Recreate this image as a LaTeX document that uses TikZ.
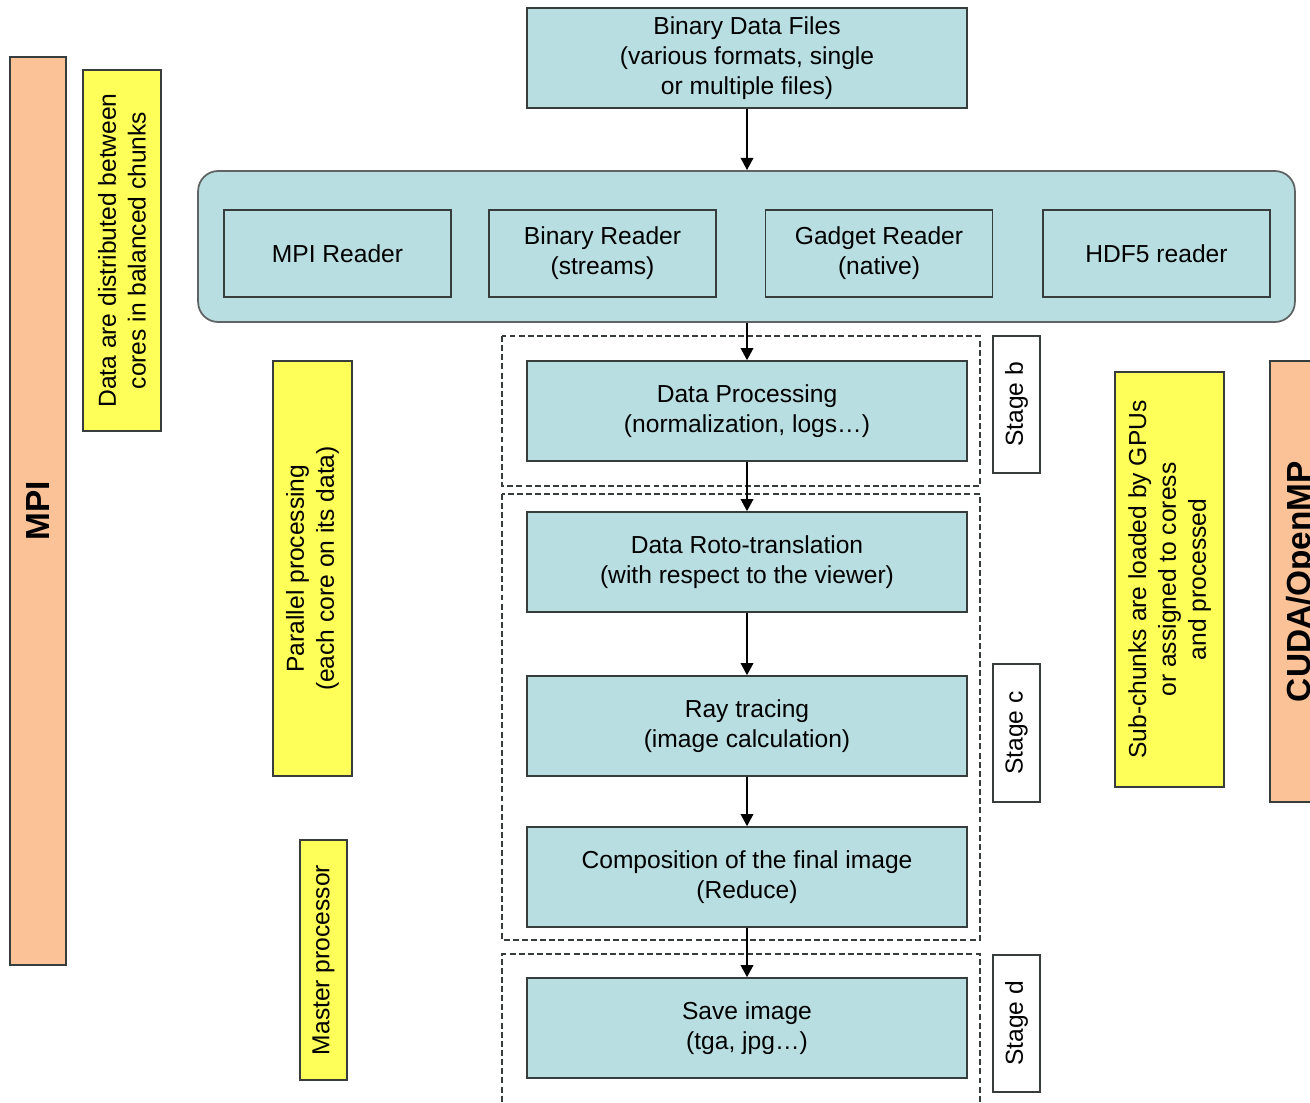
\documentclass[tikz,border=0pt]{standalone}
\usepackage{fontspec}
\setmainfont{Liberation Sans}
\usepackage{xcolor}
\usetikzlibrary{shapes.geometric, arrows, arrows.meta, positioning, fit, backgrounds, calc}
\definecolor{stageteal}{RGB}{184,222,225}
\definecolor{noteyellow}{RGB}{255,255,90}
\definecolor{apiorange}{RGB}{250,194,150}
\definecolor{edgegray}{RGB}{55,60,60}

\begin{document}
\begin{tikzpicture}[
    x=0.02cm, y=-0.02cm,
    font=\fontsize{14}{17}\selectfont,
    box/.style={draw=edgegray, line width=0.8pt, fill=stageteal, minimum width=8.8cm, minimum height=2cm, align=center},
    reader/.style={draw=edgegray, line width=0.8pt, fill=stageteal, minimum width=4.54cm, minimum height=1.74cm, align=center},
    note/.style={draw=edgegray, line width=0.8pt, fill=noteyellow, rotate=90, align=center, inner sep=0pt},
    api/.style={draw=edgegray, line width=0.8pt, fill=apiorange, rotate=90, align=center, inner sep=0pt, font=\fontsize{19}{22}\selectfont\bfseries},
    stagelabel/.style={draw=edgegray, line width=0.8pt, fill=white, rotate=90, minimum height=0.94cm, inner sep=0pt},
    stagebox/.style={draw=edgegray, line width=0.6pt, dash pattern=on 3.4pt off 1.8pt},
    arrow/.style={-{Triangle[length=7pt, width=7pt]}, line width=1.5pt, >=stealth}
]
    \useasboundingbox[fill=white] (0,0) rectangle (1310,1102);

    % dashed stage frames
    \draw[stagebox] (502,336) rectangle (980,486);
    \draw[stagebox] (502,494) rectangle (980,940);
    \draw[stagebox] (980,1120) -- (980,954) -- (502,954) -- (502,1120);

    \node[box] (files) at (747,58) {Binary Data Files\\(various formats, single\\or multiple files)};

    \node[draw=edgegray!80, line width=1pt, fill=stageteal, rounded corners=0.4cm, minimum width=21.94cm, minimum height=3.02cm] (readers) at (746.5,246.5) {};
    \node[reader] (mpird) at (337.5,253.5) {MPI Reader};
    \node[reader] (binrd) at (602.5,253.5) {Binary Reader\\(streams)};
    \node[reader] (gadrd) at (879,253.5) {Gadget Reader\\(native)};
    \node[reader] (hdfrd) at (1156.5,253.5) {HDF5 reader};

    \node[box] (process) at (747,411) {Data Processing\\(normalization, logs\dots)};
    \node[box] (rototrans) at (747,562) {Data Roto-translation\\(with respect to the viewer)};
    \node[box] (raytrace) at (747,726) {Ray tracing\\(image calculation)};
    \node[box] (compose) at (747,877) {Composition of the final image\\(Reduce)};
    \node[box] (save) at (747,1028) {Save image\\(tga, jpg\dots)};

    \node[stagelabel, minimum width=2.74cm] (stageb) at (1016.5,404.5) {Stage b};
    \node[stagelabel, minimum width=2.76cm] (stagec) at (1016.5,733) {Stage c};
    \node[stagelabel, minimum width=2.74cm] (staged) at (1016.5,1023.5) {Stage d};

    \node[api, minimum width=18.16cm, minimum height=1.12cm] (mpi) at (38,511) {MPI};
    \node[api, minimum width=8.82cm, minimum height=1.28cm] (cuda) at (1302,581.5) {CUDA/OpenMP};

    \node[note, minimum width=7.22cm, minimum height=1.56cm] (distrib) at (122,250.5) {Data are distributed between\\cores in balanced chunks};
    \node[note, minimum width=8.3cm, minimum height=1.58cm] (parallel) at (312.5,568.5) {Parallel processing\\(each core on its data)};
    \node[note, minimum width=4.8cm, minimum height=0.94cm] (master) at (323.5,960) {Master processor};
    \node[note, minimum width=8.3cm, minimum height=2.18cm] (subchunks) at (1169.5,579.5) {Sub-chunks are loaded by GPUs\\or assigned to coress\\and processed};

    \draw[arrow] (files.south) -- (files.south |- readers.north);
    \draw[arrow] (files.south |- readers.south) -- (process.north);
    \draw[arrow] (process) -- (rototrans);
    \draw[arrow] (rototrans) -- (raytrace);
    \draw[arrow] (raytrace) -- (compose);
    \draw[arrow] (compose) -- (save);
\end{tikzpicture}
\end{document}
